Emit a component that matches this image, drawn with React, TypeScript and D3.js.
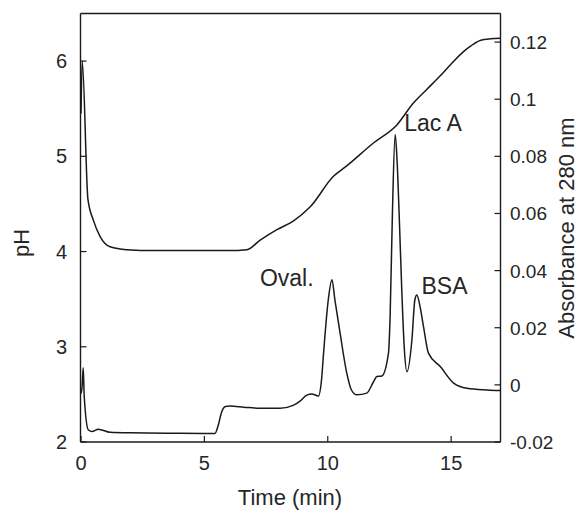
import React from "react";
import * as d3 from "d3";

const W = 584;
const H = 513;

// pH gradient (left axis)
const phTime = [0, 0.05, 0.28, 0.5, 0.77, 1.18, 1.85, 3, 4.5, 6, 6.72, 7.26, 7.94, 8.6, 9.29, 10.23, 10.77, 11.85, 12.8, 13.47, 14, 14.5, 15, 15.5, 15.8, 16.2, 16.6, 17];
const phValue = [5.45, 6.0, 4.55, 4.33, 4.16, 4.05, 4.02, 4.01, 4.01, 4.01, 4.02, 4.12, 4.23, 4.32, 4.47, 4.79, 4.9, 5.14, 5.33, 5.56, 5.7, 5.83, 5.97, 6.1, 6.16, 6.22, 6.235, 6.24];

// Absorbance at 280 nm (right axis)
const absTime = [0, 0.04, 0.09, 0.13, 0.3, 0.45, 0.7, 1.18, 2, 3.5, 5.0, 5.43, 5.55, 5.7, 5.85, 6.04, 6.6, 7.26, 8.07, 8.6, 8.9, 9.15, 9.36, 9.62, 9.75, 9.83, 10.02, 10.17, 10.29, 10.5, 10.77, 10.96, 11.18, 11.58, 11.85, 11.99, 12.19, 12.46, 12.53, 12.62, 12.73, 12.8, 12.9, 13.0, 13.1, 13.21, 13.41, 13.53, 13.61, 13.74, 13.88, 14.08, 14.56, 15.1, 15.64, 16.45, 17];
const absValue = [-0.003, -0.001, 0.006, -0.004, -0.0158, -0.0163, -0.0155, -0.0166, -0.0168, -0.0169, -0.017, -0.017, -0.0145, -0.0095, -0.0076, -0.0074, -0.0078, -0.0082, -0.0082, -0.0072, -0.0055, -0.0036, -0.0032, -0.0039, 0.002, 0.0111, 0.0297, 0.0368, 0.0297, 0.0181, 0.0041, -0.0018, -0.0035, -0.0029, 0.001, 0.0029, 0.0031, 0.0111, 0.025, 0.06, 0.0876, 0.08, 0.058, 0.033, 0.013, 0.0046, 0.0158, 0.0298, 0.0315, 0.0274, 0.0204, 0.0111, 0.0064, 0.0006, -0.0012, -0.0018, -0.002];

const xTicks = [0, 5, 10, 15];
const xTickLabels = ["0", "5", "10", "15"];
const phTicks = [2, 3, 4, 5, 6];
const phTickLabels = ["2", "3", "4", "5", "6"];
const absTicks = [-0.02, 0, 0.02, 0.04, 0.06, 0.08, 0.1, 0.12];
const absTickLabels = ["-0.02", "0", "0.02", "0.04", "0.06", "0.08", "0.1", "0.12"];

const peakNames = ["Oval.", "Lac A", "BSA"];
const peakLabelTime = [7.25, 13.1, 13.8];
const peakLabelAbs = [0.0345, 0.0887, 0.0318];

const FONT = "'Liberation Sans', Arial, Helvetica, sans-serif";

export default function App() {
  const left = 80.5;
  const right = 500.5;
  const top = 13.5;
  const bottom = 442;

  const x = d3.scaleLinear().domain([0, 17]).range([81, 500.5]);
  const yPh = d3.scaleLinear().domain([2, 6.5]).range([bottom, top]);
  const yAbs = d3.scaleLinear().domain([-0.02, 0.13]).range([bottom, top]);

  const phPts = phTime.map((t, i) => [t, phValue[i]] as [number, number]);
  const absPts = absTime.map((t, i) => [t, absValue[i]] as [number, number]);

  const phLine = d3
    .line<[number, number]>()
    .x((d) => x(d[0]))
    .y((d) => yPh(d[1]))
    .curve(d3.curveMonotoneX);
  const absLine = d3
    .line<[number, number]>()
    .x((d) => x(d[0]))
    .y((d) => yAbs(d[1]))
    .curve(d3.curveMonotoneX);

  const tickLen = 6;
  const ink = "#1a1a1a";
  const textInk = "#262626";

  return (
    <svg
      width={W}
      height={H}
      viewBox={`0 0 ${W} ${H}`}
      style={{ position: "absolute", left: 0, top: 0, background: "#fff" }}
    >
      <rect x={0} y={0} width={W} height={H} fill="#fff" />
      {/* frame */}
      <line x1={left} y1={top} x2={right} y2={top} stroke={ink} strokeWidth={1.4} />
      <line x1={left} y1={top} x2={left} y2={bottom} stroke={ink} strokeWidth={1.4} />
      <line x1={right} y1={top} x2={right} y2={bottom} stroke={ink} strokeWidth={1.4} />
      <line x1={left} y1={bottom} x2={right} y2={bottom} stroke={ink} strokeWidth={1.4} />

      {/* x ticks */}
      {xTicks.map((t, i) => (
        <g key={"x" + i}>
          <line x1={x(t)} x2={x(t)} y1={bottom} y2={bottom - tickLen} stroke={ink} strokeWidth={1.2} />
          <text x={x(t)} y={470} textAnchor="middle" fontFamily={FONT} fontSize={20} fill={textInk}>
            {xTickLabels[i]}
          </text>
        </g>
      ))}

      {/* left ticks */}
      {phTicks.map((t, i) => (
        <g key={"p" + i}>
          <line x1={left} x2={left + tickLen} y1={yPh(t)} y2={yPh(t)} stroke={ink} strokeWidth={1.2} />
          <text x={67} y={yPh(t) + 7} textAnchor="end" fontFamily={FONT} fontSize={20} fill={textInk}>
            {phTickLabels[i]}
          </text>
        </g>
      ))}

      {/* right ticks */}
      {absTicks.map((t, i) => (
        <g key={"a" + i}>
          <line x1={right} x2={right - tickLen} y1={yAbs(t)} y2={yAbs(t)} stroke={ink} strokeWidth={1.2} />
          <text x={510} y={yAbs(t) + 7} textAnchor="start" fontFamily={FONT} fontSize={19} fill={textInk}>
            {absTickLabels[i]}
          </text>
        </g>
      ))}

      {/* curves */}
      <path d={phLine(phPts) || ""} fill="none" stroke={ink} strokeWidth={1.5} />
      <path d={absLine(absPts) || ""} fill="none" stroke={ink} strokeWidth={1.5} />

      {/* peak labels */}
      {peakNames.map((n, i) => (
        <text
          key={"n" + i}
          x={x(peakLabelTime[i])}
          y={yAbs(peakLabelAbs[i])}
          fontFamily={FONT}
          fontSize={23}
          fill={textInk}
        >
          {n}
        </text>
      ))}

      {/* axis titles */}
      <text x={290} y={505} textAnchor="middle" fontFamily={FONT} fontSize={22} fill={textInk}>
        Time (min)
      </text>
      <text
        transform={`translate(29, 243) rotate(-90)`}
        textAnchor="middle"
        fontFamily={FONT}
        fontSize={22}
        fill={textInk}
      >
        pH
      </text>
      <text
        transform={`translate(574, 228) rotate(-90)`}
        textAnchor="middle"
        fontFamily={FONT}
        fontSize={22}
        fill={textInk}
      >
        Absorbance at 280 nm
      </text>
    </svg>
  );
}
